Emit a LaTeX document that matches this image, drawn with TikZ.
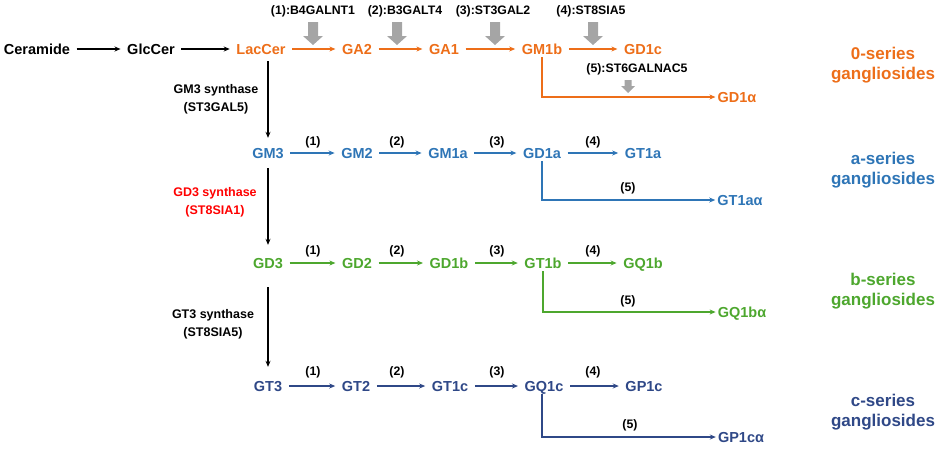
\documentclass[tikz,border=0pt]{standalone}
\usepackage{fontspec}
\setmainfont{Liberation Sans}
\usetikzlibrary{arrows.meta}
\definecolor{ocol}{RGB}{237,110,25}
\definecolor{acol}{RGB}{46,117,182}
\definecolor{bcol}{RGB}{77,167,46}
\definecolor{ccol}{RGB}{47,72,135}
\definecolor{rcol}{RGB}{255,0,0}
\definecolor{gcol}{RGB}{165,165,165}
\begin{document}
\begin{tikzpicture}[x=1pt,y=-1pt,
 lbl/.style={font=\bfseries\fontsize{14.5}{16}\selectfont, inner xsep=6.5pt, inner ysep=3pt, text height=10.5pt, text depth=0pt, anchor=center},
 alab/.style={lbl, inner xsep=2pt},
 enz/.style={font=\bfseries\fontsize{12.3}{14}\selectfont, inner sep=0pt},
 stp/.style={font=\bfseries\fontsize{12.3}{14}\selectfont, inner sep=0pt},
 ser/.style={font=\bfseries\fontsize{17}{20.5}\selectfont, align=center},
 syn/.style={font=\bfseries\fontsize{12.5}{18}\selectfont, align=center},
 arr/.style={-{Stealth[length=6pt,width=5pt]}, line width=1.1pt},
 bigdown/.pic={\fill[gcol] (-5,22) -- (5,22) -- (5,36) -- (10,36) -- (0,45) -- (-10,36) -- (-5,36) -- cycle;},
 smalldown/.pic={\fill[gcol] (-3.5,80) -- (3.5,80) -- (3.5,86) -- (7,86) -- (0,93) -- (-7,86) -- (-3.5,86) -- cycle;}
]
\useasboundingbox (0,0) rectangle (941,448);

% row 0
\node[lbl] (Cer) at (37,49) {Ceramide};
\node[lbl] (Glc) at (151,49) {GlcCer};
\node[lbl,text=ocol] (Lac) at (261,49) {LacCer};
\node[lbl,text=ocol] (GA2) at (357,49) {GA2};
\node[lbl,text=ocol] (GA1) at (444,49) {GA1};
\node[lbl,text=ocol] (GM1b) at (542,49) {GM1b};
\node[lbl,text=ocol] (GD1c) at (643,49) {GD1c};
\node[alab,text=ocol] (GD1al) at (737,97) {GD1α};
\node[ser,text=ocol] (S0) at (883,65) {0-series\\gangliosides};

% row a
\node[lbl,text=acol] (GM3) at (268,153) {GM3};
\node[lbl,text=acol] (GM2) at (357,153) {GM2};
\node[lbl,text=acol] (GM1a) at (448,153) {GM1a};
\node[lbl,text=acol] (GD1a) at (542,153) {GD1a};
\node[lbl,text=acol] (GT1a) at (643,153) {GT1a};
\node[alab,text=acol] (GT1aal) at (740,200) {GT1aα};
\node[ser,text=acol] (Sa) at (883,170) {a-series\\gangliosides};

% row b
\node[lbl,text=bcol] (GD3) at (268,263) {GD3};
\node[lbl,text=bcol] (GD2) at (357,263) {GD2};
\node[lbl,text=bcol] (GD1b) at (449,263) {GD1b};
\node[lbl,text=bcol] (GT1b) at (543,263) {GT1b};
\node[lbl,text=bcol] (GQ1b) at (643,263) {GQ1b};
\node[alab,text=bcol] (GQ1bal) at (742,312) {GQ1bα};
\node[ser,text=bcol] (Sb) at (883,291) {b-series\\gangliosides};

% row c
\node[lbl,text=ccol] (GT3) at (268,386) {GT3};
\node[lbl,text=ccol] (GT2) at (356,386) {GT2};
\node[lbl,text=ccol] (GT1c) at (450,386) {GT1c};
\node[lbl,text=ccol] (GQ1c) at (544,386) {GQ1c};
\node[lbl,text=ccol] (GP1c) at (644,386) {GP1c};
\node[alab,text=ccol] (GP1cal) at (741,437) {GP1cα};
\node[ser,text=ccol] (Sc) at (883,412) {c-series\\gangliosides};

% synthase labels
\node[syn] (syn1) at (216,99) {GM3 synthase\\(ST3GAL5)};
\node[syn,text=rcol] (syn2) at (215,202) {GD3 synthase\\(ST8SIA1)};
\node[syn] (syn3) at (213,324) {GT3 synthase\\(ST8SIA5)};

% enzyme labels
\node[enz] (e1) at (313,11) {(1):B4GALNT1};
\node[enz] (e2) at (405,11) {(2):B3GALT4};
\node[enz] (e3) at (493,11) {(3):ST3GAL2};
\node[enz] (e4) at (591,11) {(4):ST8SIA5};
\node[enz] (e5) at (637,69) {(5):ST6GALNAC5};
\pic at (313,0) {bigdown};
\pic at (397,0) {bigdown};
\pic at (495,0) {bigdown};
\pic at (593,0) {bigdown};
\pic at (628,0) {smalldown};

% step labels
\foreach \r/\yy/\yf/\xf in {a/142/188/628, b/251/301/628, c/372/425/630}{
  \node[stp] (s1\r) at (313,\yy) {(1)};
  \node[stp] (s2\r) at (397,\yy) {(2)};
  \node[stp] (s3\r) at (497,\yy) {(3)};
  \node[stp] (s4\r) at (593,\yy) {(4)};
  \node[stp] (s5\r) at (\xf,\yf) {(5)};
}

% connectors
\draw[arr] (Cer) -- (Glc);
\draw[arr] (Glc) -- (Lac);
\draw[arr,ocol] (Lac) -- (GA2);
\draw[arr,ocol] (GA2) -- (GA1);
\draw[arr,ocol] (GA1) -- (GM1b);
\draw[arr,ocol] (GM1b) -- (GD1c);
\draw[arr,ocol] (GM1b) |- (GD1al);

\draw[arr,acol] (GM3) -- (GM2);
\draw[arr,acol] (GM2) -- (GM1a);
\draw[arr,acol] (GM1a) -- (GD1a);
\draw[arr,acol] (GD1a) -- (GT1a);
\draw[arr,acol] (GD1a) |- (GT1aal);

\draw[arr,bcol] (GD3) -- (GD2);
\draw[arr,bcol] (GD2) -- (GD1b);
\draw[arr,bcol] (GD1b) -- (GT1b);
\draw[arr,bcol] (GT1b) -- (GQ1b);
\draw[arr,bcol] (GT1b) |- (GQ1bal);

\draw[arr,ccol] (GT3) -- (GT2);
\draw[arr,ccol] (GT2) -- (GT1c);
\draw[arr,ccol] (GT1c) -- (GQ1c);
\draw[arr,ccol] (GQ1c) -- (GP1c);
\draw[arr,ccol] (GQ1c.south -| GD1a) |- (GP1cal);

\draw[arr, shorten <=3.75pt, shorten >=6.75pt] (Lac.south -| GM3) -- (GM3);
\draw[arr, shorten <=6.75pt, shorten >=9.75pt] (GM3) -- (GD3);
\draw[arr, shorten <=15.75pt, shorten >=10.75pt] (GD3) -- (GT3);
\end{tikzpicture}
\end{document}
